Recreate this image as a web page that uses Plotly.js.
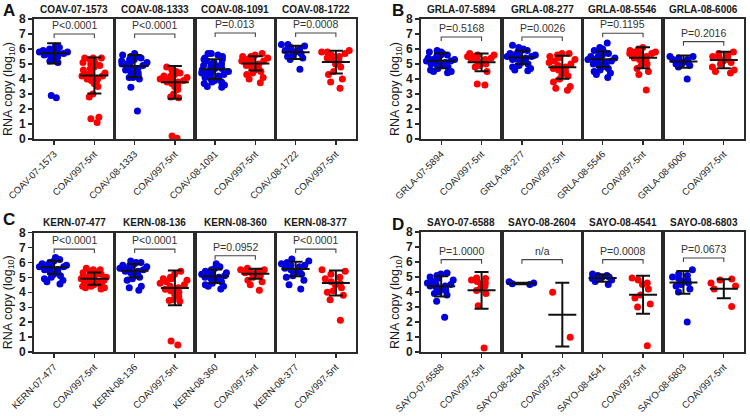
<!DOCTYPE html>
<html>
<head>
<meta charset="utf-8">
<script src="https://cdn.plot.ly/plotly-3.0.1.min.js"></script>
<style>
html,body{margin:0;padding:0;background:#fff;}
#chart{width:750px;height:416px;}
</style>
</head>
<body>
<div id="chart"></div>
<script>
// ---------------- DATA ----------------
const panelLetters = ['A', 'B', 'C', 'D'];
const refName = 'COAV997-5nt';
const yTitle = 'RNA copy (log<sub>10</sub>)';

// Panel A
const namesA = ['COAV-07-1573', 'COAV-08-1333', 'COAV-08-1091', 'COAV-08-1722'];
const blueA = [
  [6.2,6.1,6.0,6.0,5.9,5.9,5.8,5.8,5.8,5.7,5.7,5.7,5.6,5.6,5.5,5.5,5.4,5.3,5.2,5.1,2.9,2.75],
  [5.7,5.6,5.5,5.5,5.4,5.3,5.3,5.2,5.2,5.1,5.0,5.0,4.9,4.8,4.7,4.6,4.5,4.4,4.2,4.2,4.1,4.1,4.0,3.45,1.87],
  [5.7,5.7,5.6,5.5,5.4,5.3,5.3,5.2,5.1,5.0,5.0,4.9,4.9,4.8,4.8,4.7,4.7,4.6,4.6,4.5,4.5,4.4,4.4,4.3,4.3,4.2,4.1,4.0,4.0,3.9,3.8,3.8,3.7,3.6,3.5,3.45],
  [6.3,6.3,6.2,6.1,6.0,5.9,5.9,5.8,5.8,5.7,5.6,5.5,5.4,5.3,4.65]
];
const redA = [
  [5.4,5.4,5.4,5.3,5.2,5.1,5.0,5.0,4.9,4.8,4.7,4.6,4.5,4.4,4.3,4.2,4.2,4.1,4.0,4.0,3.9,3.8,3.7,3.5,3.0,2.8,1.45,1.35,1.1],
  [4.8,4.6,4.5,4.4,4.3,4.2,4.2,4.1,4.1,4.0,4.0,3.9,3.9,3.8,3.8,3.7,3.6,3.5,3.3,3.0,2.8,2.75,0.2,0.05],
  [5.7,5.6,5.5,5.5,5.4,5.4,5.3,5.2,5.2,5.1,5.0,4.9,4.8,4.7,4.6,4.5,4.4,4.3,4.1,4.0,3.75],
  [5.9,5.8,5.8,5.7,5.6,5.5,5.4,5.3,5.2,5.0,4.8,4.5,4.3,4.0,3.8,3.38]
];
const meanBlueA = [5.71, 4.86, 4.65, 5.78];
const sdBlueA   = [0.67, 0.745, 0.665, 0.445];
const meanRedA  = [4.24, 3.78, 5.04, 5.13];
const sdRedA    = [1.2, 1.09, 0.48, 0.755];
const pTextA    = ['P<0.0001', 'P<0.0001', 'P=0.013', 'P=0.0008'];
const bracketA  = [7.0, 7.0, 7.07, 7.07];

// Panel B
const namesB = ['GRLA-07-5894', 'GRLA-08-277', 'GRLA-08-5546', 'GRLA-08-6006'];
const blueB = [
  [5.9,5.8,5.8,5.7,5.7,5.6,5.6,5.5,5.4,5.4,5.3,5.3,5.2,5.2,5.1,5.1,5.0,5.0,4.9,4.9,4.8,4.7,4.6,4.5,4.5,4.42],
  [6.25,6.1,6.0,5.9,5.9,5.8,5.7,5.7,5.6,5.6,5.5,5.5,5.4,5.4,5.3,5.3,5.2,5.1,5.0,4.9,4.8,4.7,4.6,4.55],
  [6.4,6.1,6.0,5.9,5.8,5.8,5.7,5.6,5.5,5.5,5.4,5.4,5.3,5.3,5.2,5.2,5.1,5.0,5.0,4.9,4.8,4.7,4.6,4.5,4.4,4.3,4.1],
  [5.5,5.5,5.4,5.3,5.3,5.2,5.2,5.1,5.1,5.0,5.0,4.9,4.8,4.0]
];
const redB = [
  [5.7,5.6,5.6,5.5,5.5,5.4,5.4,5.3,5.3,5.2,5.2,5.1,5.0,4.9,4.8,4.5,3.67,3.6],
  [5.7,5.7,5.6,5.5,5.4,5.3,5.2,5.1,5.0,4.9,4.8,4.7,4.6,4.5,4.3,4.2,4.0,3.8,3.5,3.38,3.25],
  [6.1,6.0,5.9,5.9,5.8,5.8,5.7,5.7,5.6,5.5,5.4,5.3,5.2,5.1,5.0,4.9,4.7,4.5,4.3,3.27],
  [5.8,5.7,5.6,5.5,5.4,5.3,5.2,5.1,5.0,4.8,4.6,4.5,4.4]
];
const meanBlueB = [5.22, 5.44, 5.31, 5.16];
const sdBlueB   = [0.5, 0.445, 0.52, 0.41];
const meanRedB  = [5.11, 4.78, 5.42, 5.27];
const sdRedB    = [0.59, 0.765, 0.7, 0.555];
const pTextB    = ['P=0.5168', 'P=0.0026', 'P=0.1195', 'P=0.2016'];
const bracketB  = [6.8, 6.8, 7.05, 6.49];

// Panel C
const namesC = ['KERN-07-477', 'KERN-08-136', 'KERN-08-360', 'KERN-08-377'];
const blueC = [
  [6.33,6.2,6.1,6.0,5.9,5.9,5.8,5.8,5.7,5.7,5.6,5.5,5.5,5.4,5.3,5.2,5.1,5.0,4.9,4.8,4.7,4.56],
  [6.1,6.0,6.0,5.9,5.8,5.8,5.7,5.7,5.6,5.6,5.5,5.5,5.4,5.4,5.3,5.2,5.1,5.0,4.9,4.8,4.4,4.3,4.13],
  [5.9,5.7,5.6,5.5,5.4,5.3,5.3,5.2,5.2,5.1,5.1,5.0,5.0,4.9,4.9,4.8,4.7,4.6,4.5,4.4,4.4,4.22],
  [6.22,6.1,6.0,5.9,5.8,5.8,5.7,5.6,5.5,5.4,5.3,5.2,5.1,5.0,4.8,4.5,4.22]
];
const redC = [
  [5.6,5.5,5.5,5.4,5.4,5.3,5.3,5.2,5.2,5.1,5.1,5.0,5.0,5.0,4.9,4.9,4.8,4.8,4.7,4.7,4.6,4.6,4.5,4.5,4.4,4.4,4.3,4.3,4.22],
  [5.4,5.2,5.0,4.9,4.9,4.8,4.7,4.6,4.5,4.4,4.3,4.2,4.1,4.0,3.9,3.7,3.5,3.45,3.4,0.73,0.47],
  [5.6,5.5,5.5,5.4,5.4,5.3,5.3,5.2,5.2,5.1,5.0,4.8,4.7,4.5,4.13],
  [5.5,5.4,5.2,5.0,4.9,4.7,4.6,4.5,4.3,4.1,4.0,3.8,3.5,2.13]
];
const meanBlueC = [5.67, 5.44, 5.07, 5.56];
const sdBlueC   = [0.445, 0.445, 0.445, 0.49];
const meanRedC  = [4.91, 4.29, 5.24, 4.62];
const sdRedC    = [0.41, 1.165, 0.335, 0.83];
const pTextC    = ['P<0.0001', 'P<0.0001', 'P=0.0952', 'P<0.0001'];
const bracketC  = [6.89, 6.89, 6.44, 6.89];

// Panel D
const namesD = ['SAYO-07-6588', 'SAYO-08-2604', 'SAYO-08-4541', 'SAYO-08-6803'];
const blueD = [
  [5.27,5.2,5.1,5.0,4.9,4.8,4.7,4.6,4.5,4.5,4.4,4.4,4.3,4.3,4.2,4.1,4.0,3.9,3.8,3.38,2.31],
  [4.68,4.6,4.55,4.5],
  [5.2,5.1,5.1,5.0,5.0,4.9,4.9,4.8,4.7,4.5],
  [5.49,5.2,5.1,5.0,4.9,4.8,4.7,4.6,4.5,4.4,4.2,4.0,2.0]
];
const redD = [
  [4.93,4.9,4.8,4.7,4.6,4.5,4.4,4.2,4.1,3.9,3.09,0.27],
  [3.98,0.98],
  [4.93,4.8,4.6,4.5,4.2,3.8,3.6,3.2,3.0,0.42],
  [4.87,4.8,4.6,4.4,4.2,3.04]
];
const meanBlueD = [4.38, 4.56, 4.93, 4.64];
const sdBlueD   = [0.675, 0.05, 0.245, 0.755];
const meanRedD  = [4.11, 2.49, 3.82, 4.22];
const sdRedD    = [1.23, 2.13, 1.265, 0.635];
const pTextD    = ['P=1.0000', 'n/a', 'P=0.0008', 'P=0.0673'];
const bracketD  = [6.16, 6.16, 6.16, 6.27];

// ---------------- STYLE / LAYOUT ----------------
const W = 750, H = 416;
const FONT = 'Liberation Sans, Arial, Helvetica, sans-serif';
const BLUE = '#0000dd', RED = '#ff0000', INK = '#1a1a1a', AXIS = '#2a2a2a';
const boxes = [
  {l: 34,  r: 356, t: 19,    b: 139},
  {l: 421, r: 744, t: 19,    b: 139},
  {l: 34,  r: 356, t: 232.5, b: 352},
  {l: 421, r: 744, t: 232,   b: 352}
];
const letterPos = [[9, 10], [398, 10], [9, 219], [398, 224]];

const panels = [
  {names: namesA, blue: blueA, red: redA, mb: meanBlueA, sb: sdBlueA, mr: meanRedA, sr: sdRedA, p: pTextA, br: bracketA},
  {names: namesB, blue: blueB, red: redB, mb: meanBlueB, sb: sdBlueB, mr: meanRedB, sr: sdRedB, p: pTextB, br: bracketB},
  {names: namesC, blue: blueC, red: redC, mb: meanBlueC, sb: sdBlueC, mr: meanRedC, sr: sdRedC, p: pTextC, br: bracketC},
  {names: namesD, blue: blueD, red: redD, mb: meanBlueD, sb: sdBlueD, mr: meanRedD, sr: sdRedD, p: pTextD, br: bracketD}
];

const traces = [];
const layout = {
  width: W, height: H,
  margin: {l: 0, r: 0, t: 0, b: 0},
  paper_bgcolor: '#fff', plot_bgcolor: '#fff',
  showlegend: false,
  font: {family: FONT, color: INK},
  annotations: []
};

panels.forEach((P, pi) => {
  const bx = boxes[pi];
  const sw = (bx.r - bx.l) / 4;
  P.names.forEach((nm, s) => {
    const k = pi * 4 + s + 1;
    const xid = 'x' + (k === 1 ? '' : k), yid = 'y' + (k === 1 ? '' : k);
    const xkey = 'xaxis' + (k === 1 ? '' : k), ykey = 'yaxis' + (k === 1 ? '' : k);
    const cats = [nm, refName];
    layout[xkey] = {
      domain: [(bx.l + s * sw) / W, (bx.l + (s + 1) * sw) / W],
      anchor: yid, type: 'category', categoryorder: 'array', categoryarray: cats,
      range: [-0.5, 1.5], fixedrange: true,
      showline: true, mirror: true, linecolor: AXIS, linewidth: 1.8,
      ticks: 'outside', ticklen: 4, tickwidth: 1.3, tickcolor: AXIS,
      ticklabelstandoff: 0,
      tickangle: -45, tickfont: {family: FONT, size: 9.5, color: INK},
      showgrid: false, zeroline: false
    };
    layout[ykey] = {
      domain: [1 - bx.b / H, 1 - bx.t / H],
      anchor: xid, range: [0, 8], fixedrange: true,
      showline: true, mirror: true, linecolor: AXIS, linewidth: 1.8,
      showgrid: false, zeroline: false,
      ticks: s === 0 ? 'outside' : '', ticklen: 4, tickwidth: 1.3, tickcolor: AXIS,
      dtick: 1, tick0: 0,
      showticklabels: s === 0,
      tickfont: {family: FONT, size: 12, color: INK, weight: 700}
    };

    const boxCommon = {
      type: 'box', boxpoints: 'all', jitter: 1, pointpos: 0, width: 0.75,
      fillcolor: 'rgba(0,0,0,0)', line: {width: 0, color: 'rgba(0,0,0,0)'},
      whiskerwidth: 0, hoverinfo: 'skip', xaxis: xid, yaxis: yid
    };
    traces.push(Object.assign({}, boxCommon, {
      x: P.blue[s].map(() => nm), y: P.blue[s], name: nm,
      marker: {color: BLUE, size: 7}
    }));
    traces.push(Object.assign({}, boxCommon, {
      x: P.red[s].map(() => refName), y: P.red[s], name: refName,
      marker: {color: RED, size: 7}
    }));
    // mean +/- SD
    traces.push({
      type: 'scatter', mode: 'markers', x: cats, y: [P.mb[s], P.mr[s]],
      xaxis: xid, yaxis: yid, hoverinfo: 'skip',
      marker: {symbol: 'line-ew', size: 20, color: '#111', line: {width: 2, color: '#111'}},
      error_y: {type: 'data', array: [P.sb[s], P.sr[s]], width: 7, thickness: 2, color: '#111'}
    });
    // significance bracket
    const b = P.br[s];
    traces.push({
      type: 'scatter', mode: 'lines', x: [nm, nm, refName, refName], y: [b - 0.27, b, b, b - 0.27],
      xaxis: xid, yaxis: yid, hoverinfo: 'skip', line: {color: '#444', width: 1.1}
    });
    layout.annotations.push({
      xref: xid + ' domain', yref: yid, x: 0.5, y: b, yanchor: 'bottom', yshift: 1,
      text: P.p[s], showarrow: false, font: {family: FONT, size: 10.5, color: '#333'}
    });
    // subpanel title
    layout.annotations.push({
      xref: xid + ' domain', yref: yid + ' domain', x: 0.5, y: 1, yanchor: 'bottom', yshift: 2,
      text: nm, showarrow: false, font: {family: FONT, size: 10, color: INK, weight: 700}
    });
  });
  // y-axis title
  layout.annotations.push({
    xref: 'paper', yref: 'paper', x: (bx.l - 25) / W, y: 1 - ((bx.t + bx.b) / 2 + 10) / H,
    xanchor: 'center', yanchor: 'middle', textangle: -90, showarrow: false,
    text: yTitle, font: {family: FONT, size: 12.5, color: INK}
  });
  // panel letter
  layout.annotations.push({
    xref: 'paper', yref: 'paper', x: letterPos[pi][0] / W, y: 1 - letterPos[pi][1] / H,
    xanchor: 'center', yanchor: 'middle', showarrow: false,
    text: panelLetters[pi], font: {family: FONT, size: 17, color: '#111', weight: 700}
  });
});

Plotly.newPlot('chart', traces, layout, {staticPlot: true, displayModeBar: false});
</script>
</body>
</html>
